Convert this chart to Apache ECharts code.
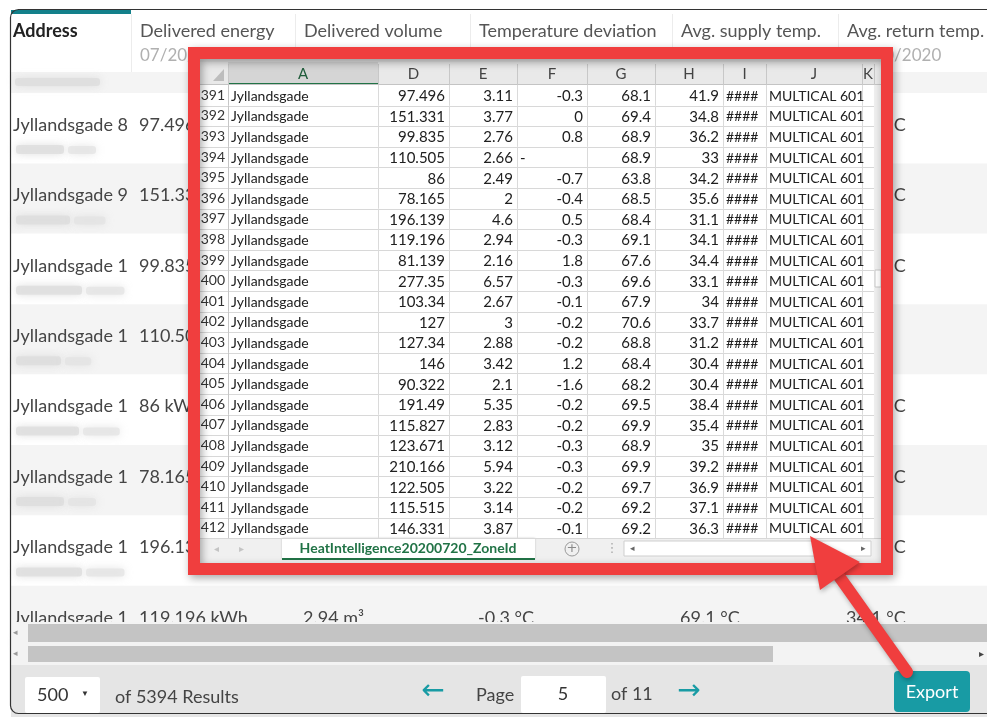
<!DOCTYPE html>
<html><head><meta charset="utf-8">
<script src="https://cdn.jsdelivr.net/npm/echarts@6/dist/echarts.min.js"></script>
<style>html,body{margin:0;padding:0;background:#fff;overflow:hidden}#c{width:987px;height:717px}</style>
</head><body><div id="c"></div>
<script>
// ---------- data ----------
const rowNums = [391,392,393,394,395,396,397,398,399,400,401,402,403,404,405,406,407,408,409,410,411,412];
const colA = ['Jyllandsgade','Jyllandsgade','Jyllandsgade','Jyllandsgade','Jyllandsgade','Jyllandsgade','Jyllandsgade','Jyllandsgade','Jyllandsgade','Jyllandsgade','Jyllandsgade','Jyllandsgade','Jyllandsgade','Jyllandsgade','Jyllandsgade','Jyllandsgade','Jyllandsgade','Jyllandsgade','Jyllandsgade','Jyllandsgade','Jyllandsgade','Jyllandsgade'];
const colD = [97.496,151.331,99.835,110.505,86,78.165,196.139,119.196,81.139,277.35,103.34,127,127.34,146,90.322,191.49,115.827,123.671,210.166,122.505,115.515,146.331];
const colE = [3.11,3.77,2.76,2.66,2.49,2,4.6,2.94,2.16,6.57,2.67,3,2.88,3.42,2.1,5.35,2.83,3.12,5.94,3.22,3.14,3.87];
const colF = [-0.3,0,0.8,'-',-0.7,-0.4,0.5,-0.3,1.8,-0.3,-0.1,-0.2,-0.2,1.2,-1.6,-0.2,-0.2,-0.3,-0.3,-0.2,-0.2,-0.1];
const colG = [68.1,69.4,68.9,68.9,63.8,68.5,68.4,69.1,67.6,69.6,67.9,70.6,68.8,68.4,68.2,69.5,69.9,68.9,69.9,69.7,69.2,69.2];
const colH = [41.9,34.8,36.2,33,34.2,35.6,31.1,34.1,34.4,33.1,34,33.7,31.2,30.4,30.4,38.4,35.4,35,39.2,36.9,37.1,36.3];
const colI = ['####','####','####','####','####','####','####','####','####','####','####','####','####','####','####','####','####','####','####','####','####','####'];
const colJ = ['MULTICAL 601','MULTICAL 601','MULTICAL 601','MULTICAL 601','MULTICAL 601','MULTICAL 601','MULTICAL 601','MULTICAL 601','MULTICAL 601','MULTICAL 601','MULTICAL 601','MULTICAL 601','MULTICAL 601','MULTICAL 601','MULTICAL 601','MULTICAL 601','MULTICAL 601','MULTICAL 601','MULTICAL 601','MULTICAL 601','MULTICAL 601','MULTICAL 601'];
const sheetCols = ['A','D','E','F','G','H','I','J','K'];
const sheetName = 'HeatIntelligence20200720_ZoneId';

const pageHeaders = ['Address','Delivered energy','Delivered volume','Temperature deviation','Avg. supply temp.','Avg. return temp.'];
const headerDate = '07/20/2020';
const pageAddresses = ['Jyllandsgade 8','Jyllandsgade 9','Jyllandsgade 1','Jyllandsgade 1','Jyllandsgade 1','Jyllandsgade 1','Jyllandsgade 1','Jyllandsgade 1'];
const pageRows = [391,392,393,394,395,396,397,398];
const pageSize = 500, totalResults = 5394, currentPage = 5, pageCount = 11;

// ---------- layout / style ----------
const FF = 'Lato, "Open Sans", sans-serif';
const pageColX = [0,129,293,468,670,836];
const blurW = [80,90,110,75,105,80,110,95];
const sheetEdges = [0,150,221,289,359,427,495,538,634,646];
const sheetAlign = ['left','right','right','right','right','right','left','left'];
const sheetSize = [14,15,15,15,15,15,14,14];
const sheetData = [colA,colD,colE,colF,colG,colH,colI,colJ];
const RED = '#f03e3e';
const TEAL = '#189ba4';
const GREEN = '#217346';

function renderPage(params, api){
  const i = params.dataIndex;
  const c = api.coord([0, i]);
  const h = Math.abs(api.size([0,1])[1]);
  const top = c[1] - h/2;
  const right = api.coord([977, i])[0];
  const ch = [];
  ch.push({type:'rect', shape:{x:c[0]+1, y:top, width:right-c[0], height:h}, style:{fill: i%2 ? '#f4f4f4' : '#ffffff'}});
  const vals = [pageAddresses[i], colD[i]+' kWh', colE[i]+' m³', colF[i]+' °C', colG[i]+' °C', colH[i]+' °C'];
  vals.forEach((t,k)=>{
    ch.push({type:'text', x: api.coord([pageColX[k], i])[0] + (k===0?3:0), y: top+32,
      style:{text:t, fill:'#454545', fontSize:18, fontFamily:FF, textVerticalAlign:'middle'}});
  });
  ch.push({type:'rect', shape:{x:c[0]+6, y:top+52, width:blurW[i]*0.6, height:9, r:3},
    style:{fill:'#dcdcdc', shadowBlur:9, shadowColor:'#d6d6d6', opacity:0.75}});
  ch.push({type:'rect', shape:{x:c[0]+10+blurW[i]*0.6, y:top+53, width:blurW[i]*0.35, height:8, r:3},
    style:{fill:'#e2e2e2', shadowBlur:9, shadowColor:'#dadada', opacity:0.7}});
  return {type:'group', children:ch};
}

function renderSheet(params, api){
  const i = params.dataIndex;
  const c = api.coord([0, i]);
  const h = Math.abs(api.size([0,1])[1]);
  const top = c[1] - h/2, bot = c[1] + h/2;
  const xs = sheetEdges.map(e => api.coord([e, i])[0]);
  const x0 = xs[0] - 28, xEnd = xs[xs.length-1];
  const ch = [];
  ch.push({type:'line', shape:{x1:x0, y1:Math.round(bot)+0.5, x2:xEnd, y2:Math.round(bot)+0.5}, style:{stroke:'#d8d8d8', lineWidth:1}});
  xs.slice(0, xs.length-1).forEach((x,k)=>{
    ch.push({type:'line', shape:{x1:Math.round(x)+0.5, y1:top, x2:Math.round(x)+0.5, y2:bot}, style:{stroke: k===0 ? '#c6c6c6' : '#dadada', lineWidth:1}});
  });
  sheetData.forEach((col,k)=>{
    let v = col[i];
    let al = sheetAlign[k];
    if (v === '-') al = 'left';
    const x = al === 'left' ? xs[k] + 3 : xs[k+1] - 4;
    ch.push({type:'text', x:x, y:c[1]+1, style:{text:String(v), fill:'#202020', fontSize:sheetSize[k], fontFamily:FF, textAlign:al, textVerticalAlign:'middle'}});
  });
  if (i === 0) {
    const hTop = top - 23;
    ch.push({type:'rect', shape:{x:x0, y:hTop, width:xEnd - x0 + 8, height:23}, style:{fill:'#e9e9e9'}});
    ch.push({type:'rect', shape:{x:xs[0], y:hTop, width:xs[1]-xs[0], height:23}, style:{fill:'#d5d5d5'}});
    ch.push({type:'rect', shape:{x:xs[0], y:top-2, width:xs[1]-xs[0], height:2}, style:{fill:GREEN}});
    ch.push({type:'polygon', shape:{points:[[xs[0]-4, hTop+7],[xs[0]-4, top-4],[xs[0]-15, top-4]]}, style:{fill:'#bdbdbd'}});
    ch.push({type:'line', shape:{x1:x0, y1:Math.round(top)-0.5, x2:xEnd+8, y2:Math.round(top)-0.5}, style:{stroke:'#c4c4c4', lineWidth:1}});
    xs.forEach((x,k)=>{
      ch.push({type:'line', shape:{x1:Math.round(x)+0.5, y1:hTop+2, x2:Math.round(x)+0.5, y2:top}, style:{stroke:'#c8c8c8', lineWidth:1}});
    });
    sheetCols.forEach((l,k)=>{
      const cx = k < sheetCols.length-1 ? (xs[k]+xs[k+1])/2 : xs[k]+6;
      ch.push({type:'text', x:cx, y:hTop+12, style:{text:l, fill: k===0 ? '#1f5c3a' : '#444', fontSize:15, fontFamily:FF, textAlign:'center', textVerticalAlign:'middle'}});
    });
  }
  return {type:'group', children:ch};
}

const graphics = [
  {type:'rect', z:5, shape:{x:11, y:10, width:980, height:62}, style:{fill:'#fff'}},
  {type:'rect', z:6, shape:{x:11, y:10, width:120, height:4}, style:{fill:'#13808a'}},
  {type:'rect', z:5, shape:{x:11, y:72, width:980, height:21}, style:{fill:'#f4f4f4'}},
  {type:'rect', z:6, shape:{x:15, y:78, width:85, height:8, r:3}, style:{fill:'#dcdcdc', shadowBlur:9, shadowColor:'#d6d6d6', opacity:0.75}},
];
[131,295,470,672,838].forEach(x=>graphics.push({type:'line', z:6, shape:{x1:x+0.5,y1:14,x2:x+0.5,y2:72}, style:{stroke:'#ececec', lineWidth:1}}));
pageHeaders.forEach((t,k)=>{
  graphics.push({type:'text', z:7, x:11+pageColX[k]+(k===0?2:0), y:31, style:{text:t, fill: k===0 ? '#222' : '#555', fontSize:18, fontWeight: k===0 ? 'bold' : 'normal', fontFamily:FF, textVerticalAlign:'middle'}});
  if (k>0) graphics.push({type:'text', z:7, x:11+pageColX[k], y:56, style:{text:headerDate, fill:'#b0b0b0', fontSize:17, fontFamily:FF, textVerticalAlign:'middle'}});
});
graphics.push(
  {type:'rect', z:5, shape:{x:11, y:622, width:980, height:43}, style:{fill:'#f3f3f3'}},
  {type:'rect', z:6, shape:{x:28, y:624, width:960, height:18}, style:{fill:'#c4c4c4'}},
  {type:'rect', z:6, shape:{x:28, y:646, width:745, height:16}, style:{fill:'#c4c4c4'}},
  {type:'text', z:7, x:15, y:633, style:{text:'◂', fill:'#999', fontSize:9, textAlign:'center', textVerticalAlign:'middle'}},
  {type:'text', z:7, x:15, y:654, style:{text:'◂', fill:'#999', fontSize:9, textAlign:'center', textVerticalAlign:'middle'}},
  {type:'text', z:7, x:981, y:654, style:{text:'▸', fill:'#444', fontSize:10, textAlign:'center', textVerticalAlign:'middle'}},
  {type:'rect', z:5, shape:{x:11, y:665, width:980, height:52}, style:{fill:'#e5e5e5'}},
  {type:'rect', z:6, shape:{x:25, y:677, width:75, height:36, r:2}, style:{fill:'#fff'}},
  {type:'text', z:7, x:37, y:695, style:{text:String(pageSize), fill:'#333', fontSize:18, fontFamily:FF, textVerticalAlign:'middle'}},
  {type:'text', z:7, x:85, y:694, style:{text:'▼', fill:'#333', fontSize:8, textAlign:'center', textVerticalAlign:'middle'}},
  {type:'text', z:7, x:115, y:697, style:{text:'of '+totalResults+' Results', fill:'#444', fontSize:18, fontFamily:FF, textVerticalAlign:'middle'}},
  {type:'text', z:7, x:433, y:692, style:{text:'←', fill:TEAL, fontSize:28, fontFamily:'DejaVu Sans', textAlign:'center', textVerticalAlign:'middle'}},
  {type:'text', z:7, x:476, y:695, style:{text:'Page', fill:'#444', fontSize:18, fontFamily:FF, textVerticalAlign:'middle'}},
  {type:'rect', z:6, shape:{x:521, y:676, width:85, height:37, r:2}, style:{fill:'#fff'}},
  {type:'text', z:7, x:563, y:694, style:{text:String(currentPage), fill:'#333', fontSize:18, fontFamily:FF, textAlign:'center', textVerticalAlign:'middle'}},
  {type:'text', z:7, x:611, y:694, style:{text:'of '+pageCount, fill:'#444', fontSize:18, fontFamily:FF, textVerticalAlign:'middle'}},
  {type:'text', z:7, x:689, y:692, style:{text:'→', fill:TEAL, fontSize:28, fontFamily:'DejaVu Sans', textAlign:'center', textVerticalAlign:'middle'}},
  {type:'rect', z:6, shape:{x:894, y:671, width:76, height:41, r:4}, style:{fill:TEAL}},
  {type:'text', z:7, x:932, y:692, style:{text:'Export', fill:'#fff', fontSize:18, fontFamily:FF, textAlign:'center', textVerticalAlign:'middle'}},
  {type:'rect', z:10, shape:{x:200, y:59, width:682, height:504}, style:{fill:'#fff'}},
  {type:'rect', z:11, shape:{x:200, y:59, width:682, height:4}, style:{fill:'#e2e2e2'}},
  {type:'rect', z:11, shape:{x:874, y:85, width:8, height:453}, style:{fill:'#efefef'}},
  {type:'rect', z:11, shape:{x:875, y:270, width:6, height:17}, style:{fill:'#fff', stroke:'#c8c8c8', lineWidth:1}},
  {type:'rect', z:11, shape:{x:200, y:538, width:682, height:25}, style:{fill:'#f0f0f0'}},
  {type:'line', z:11, shape:{x1:200, y1:538.5, x2:882, y2:538.5}, style:{stroke:'#cfcfcf', lineWidth:1}},
  {type:'text', z:11, x:216, y:549, style:{text:'◂', fill:'#c4c4c4', fontSize:10, textAlign:'center', textVerticalAlign:'middle'}},
  {type:'text', z:11, x:241, y:549, style:{text:'▸', fill:'#c4c4c4', fontSize:10, textAlign:'center', textVerticalAlign:'middle'}},
  {type:'rect', z:11, shape:{x:282, y:538, width:253, height:21}, style:{fill:'#fff', shadowBlur:2, shadowColor:'rgba(0,0,0,0.2)'}},
  {type:'rect', z:11, shape:{x:282, y:558, width:253, height:2}, style:{fill:GREEN}},
  {type:'text', z:11, x:408, y:548, style:{text:sheetName, fill:GREEN, fontSize:14, fontWeight:'bold', fontFamily:FF, textAlign:'center', textVerticalAlign:'middle'}},
  {type:'circle', z:11, shape:{cx:572, cy:549, r:7}, style:{fill:'none', stroke:'#9a9a9a', lineWidth:1}},
  {type:'text', z:11, x:572, y:549, style:{text:'+', fill:'#8a8a8a', fontSize:13, fontFamily:'DejaVu Sans', textAlign:'center', textVerticalAlign:'middle'}},
  {type:'text', z:11, x:612, y:549, style:{text:'⋮', fill:'#aaa', fontSize:13, fontFamily:'DejaVu Sans', textAlign:'center', textVerticalAlign:'middle'}},
  {type:'rect', z:11, shape:{x:624, y:541, width:247, height:15}, style:{fill:'#fff', stroke:'#cfcfcf', lineWidth:1}},
  {type:'text', z:11, x:632, y:549, style:{text:'◂', fill:'#666', fontSize:9, textAlign:'center', textVerticalAlign:'middle'}},
  {type:'text', z:11, x:863, y:549, style:{text:'▸', fill:'#666', fontSize:9, textAlign:'center', textVerticalAlign:'middle'}},
  {type:'rect', z:14, shape:{x:194, y:53, width:693, height:516}, style:{fill:'none', stroke:RED, lineWidth:12, shadowBlur:8, shadowColor:'rgba(0,0,0,0.35)', shadowOffsetX:2, shadowOffsetY:3}},
  {type:'line', z:20, shape:{x1:836, y1:572, x2:907, y2:672}, style:{stroke:RED, lineWidth:12, lineCap:'round', shadowBlur:5, shadowColor:'rgba(0,0,0,0.3)', shadowOffsetX:1, shadowOffsetY:2}},
  {type:'polygon', z:20, shape:{points:[[810,536],[820,590],[860,562]]}, style:{fill:RED, shadowBlur:5, shadowColor:'rgba(0,0,0,0.3)', shadowOffsetX:1, shadowOffsetY:2}},
  {type:'rect', z:30, shape:{x:10.5, y:9.5, width:1000, height:704, r:8}, style:{fill:'none', stroke:'#333', lineWidth:1.2}}
);

const chart = echarts.init(document.getElementById('c'), null, {renderer:'canvas'});
chart.setOption({
  animation:false,
  backgroundColor:'#fff',
  grid:[
    {left:10, top:93, width:977, height:563.2},
    {left:228, top:85, width:646, height:453.2}
  ],
  xAxis:[
    {type:'value', gridIndex:0, min:0, max:977, show:false},
    {type:'value', gridIndex:1, min:0, max:646, show:false}
  ],
  yAxis:[
    {type:'category', gridIndex:0, data:pageRows, inverse:true, show:false},
    {type:'category', gridIndex:1, data:rowNums, inverse:true, z:13,
      axisLine:{show:false}, axisTick:{show:false}, splitLine:{show:false},
      axisLabel:{interval:0, margin:3, fontSize:14, color:'#333', fontFamily:FF}}
  ],
  graphic:{elements:graphics},
  series:[
    {type:'custom', xAxisIndex:0, yAxisIndex:0, z:1, silent:true, renderItem:renderPage,
      data: pageRows.map((r,i)=>[0,i]), encode:{x:0, y:1}},
    {type:'custom', xAxisIndex:1, yAxisIndex:1, z:12, silent:true, renderItem:renderSheet,
      data: rowNums.map((r,i)=>[0,i]), encode:{x:0, y:1}}
  ]
});
</script>
</body></html>
